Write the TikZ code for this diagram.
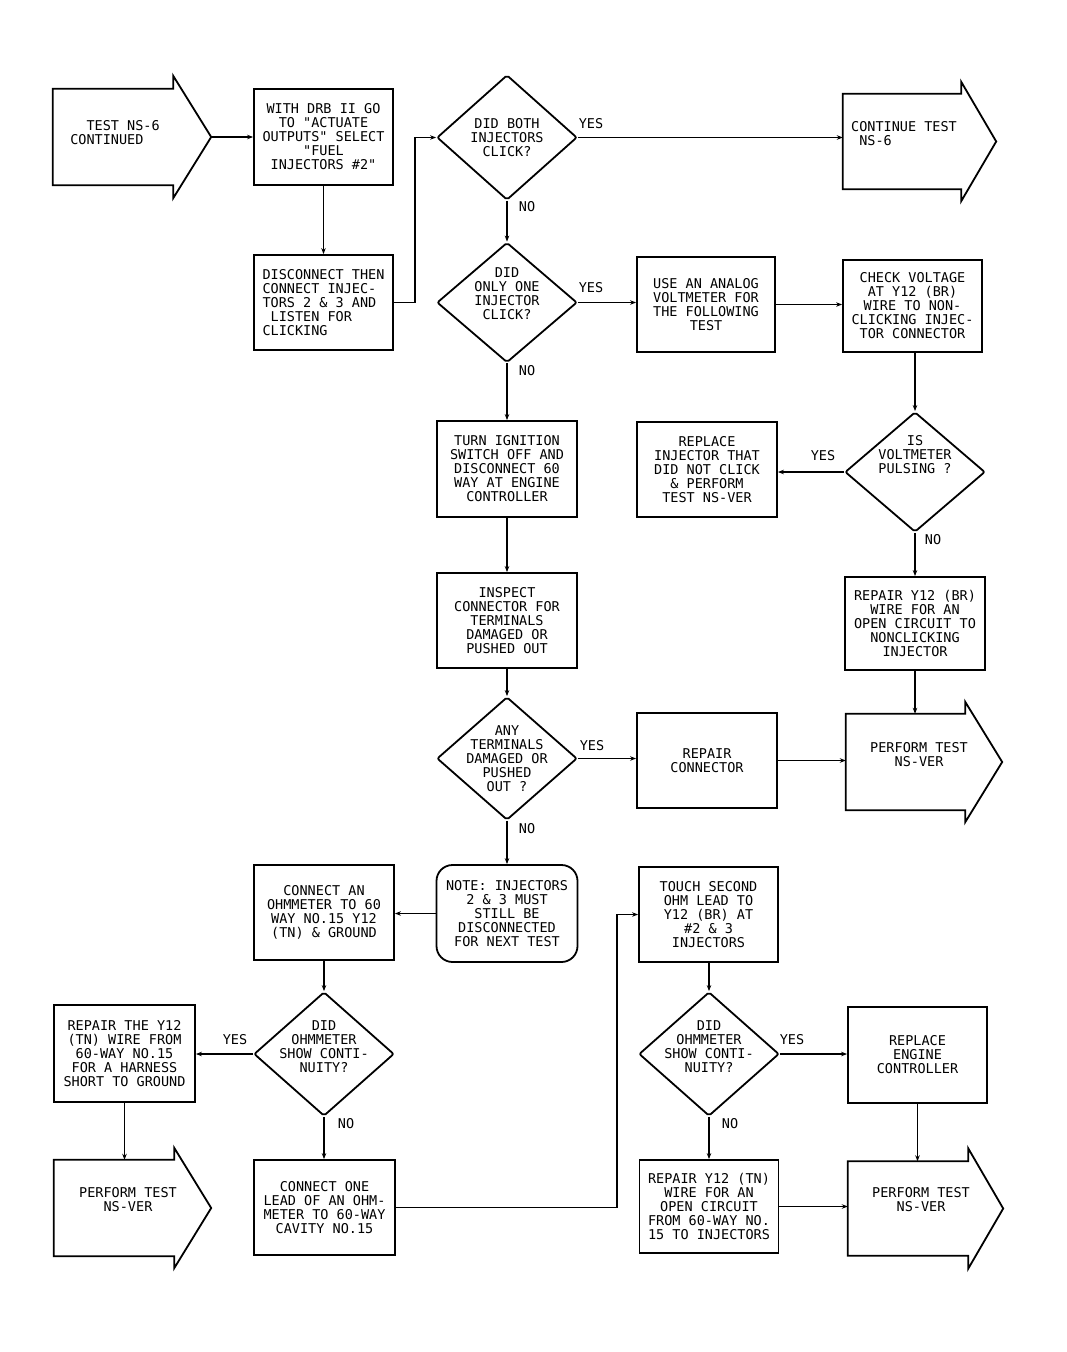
\documentclass[tikz,border=0pt]{standalone}
\usepackage{fontspec}
\setmonofont{DejaVu Sans Mono}
\usetikzlibrary{shapes.geometric,arrows.meta,calc}
\newcommand{\barrow}[3]{%
  \draw[outl] (#1.north west) -- (#1.north east) -- ($(#1.north east)+(0,-#2)$) -- ($(#1.east)+(#3,0)$) -- ($(#1.south east)+(0,#2)$) -- (#1.south east) -- (#1.south west) -- cycle;}
\begin{document}
\begin{tikzpicture}[x=1pt,y=-1pt,
  every node/.style={font=\ttfamily\fontsize{13.5}{14}\selectfont, align=center, inner sep=1pt},
  box/.style={draw, line width=1.8pt, minimum width=140pt, minimum height=95pt},
  dia/.style={draw, diamond, line width=1.8pt, minimum width=140pt, minimum height=124pt, inner sep=0pt, rounded corners=2pt},
  body/.style={minimum width=120pt, minimum height=96pt, inner sep=0pt},
  outl/.style={line width=1.8pt, line join=miter},
  conn/.style={line width=1.6pt, -{Stealth[length=6pt,width=4.5pt]}},
  lbl/.style={inner sep=0pt},
  notebox/.style={box, rounded corners=16pt},
]
\useasboundingbox (0,0) rectangle (1066,1352);
\coordinate (j1) at (415,0);
\coordinate (j2) at (617,0);

% top row
\node[body, minimum width=120pt, minimum height=96pt] (start) at (113,137) {};
\barrow{start}{13}{38}
\node[align=left] (starttxt) at (115,133) {\phantom{CC}TEST NS-6\\CONTINUED};

\node[box, minimum width=139pt, minimum height=96pt] (b1) at (323.5,137) {WITH DRB II GO\\TO "ACTUATE\\OUTPUTS" SELECT\\"FUEL\\INJECTORS \#2"};
\node[box, minimum width=139pt, minimum height=95pt, align=left] (b2) at (323.5,302.5) {DISCONNECT THEN\\CONNECT INJEC-\\TORS 2 \& 3 AND\\\phantom{C}LISTEN FOR\\CLICKING};

\node[dia, minimum height=125pt] (d1) at (507,137.5) {};
\node (d1t) at (507,138) {DID BOTH\\INJECTORS\\CLICK?};

\node[body, minimum width=118pt, minimum height=95pt] (cont) at (902,141.5) {};
\barrow{cont}{12}{35}
\node[align=left] (conttxt) at (904,134) {CONTINUE TEST\\\phantom{C}NS-6};

\node[dia, minimum height=120pt] (d2) at (507,302.5) {};
\node (d2t) at (507,294) {DID\\ONLY ONE\\INJECTOR\\CLICK?};

\node[box, minimum width=138pt] (use) at (706,304.5) {USE AN ANALOG\\VOLTMETER FOR\\THE FOLLOWING\\TEST};
\node[box, minimum width=139pt, minimum height=92pt] (check) at (912.5,306) {CHECK VOLTAGE\\AT Y12 (BR)\\WIRE TO NON-\\CLICKING INJEC-\\TOR CONNECTOR};

% second band
\node[box, minimum height=96pt] (turn) at (507,469) {TURN IGNITION\\SWITCH OFF AND\\DISCONNECT 60\\WAY AT ENGINE\\CONTROLLER};
\node[box] (repinj) at (707,469.5) {REPLACE\\INJECTOR THAT\\DID NOT CLICK\\\& PERFORM\\TEST NS-VER};
\node[dia, minimum height=120pt] (isd) at (915,472) {};
\node (isdt) at (915,455) {IS\\VOLTMETER\\PULSING ?};

\node[box] (inspect) at (507,620.5) {INSPECT\\CONNECTOR FOR\\TERMINALS\\DAMAGED OR\\PUSHED OUT};
\node[box, minimum height=93pt] (repbr) at (915,623.5) {REPAIR Y12 (BR)\\WIRE FOR AN\\OPEN CIRCUIT TO\\NONCLICKING\\INJECTOR};

\node[dia, minimum height=123pt] (any) at (507,758.5) {};
\node (anyt) at (507,759) {ANY\\TERMINALS\\DAMAGED OR\\PUSHED\\OUT ?};
\node[box] (repcon) at (707,760.5) {REPAIR\\CONNECTOR};
\node[body, minimum width=119pt, minimum height=96pt] (perf1) at (905.5,762) {};
\barrow{perf1}{12}{37}
\node (perf1t) at (919,755) {PERFORM TEST\\NS-VER};

% lower part
\node[notebox, minimum width=141pt, minimum height=97pt] (note) at (507,913.5) {NOTE: INJECTORS\\2 \& 3 MUST\\STILL BE\\DISCONNECTED\\FOR NEXT TEST};
\node[box] (connan) at (324,912.5) {CONNECT AN\\OHMMETER TO 60\\WAY NO.15 Y12\\(TN) \& GROUND};
\node[box, minimum width=139pt] (touch) at (708.5,914.5) {TOUCH SECOND\\OHM LEAD TO\\Y12 (BR) AT\\\#2 \& 3\\INJECTORS};

\node[dia, minimum height=124pt] (dl) at (324,1054) {};
\node (dlt) at (324,1047) {DID\\OHMMETER\\SHOW CONTI-\\NUITY?};
\node[box, minimum width=141pt, minimum height=97pt] (repy12) at (124.5,1053.5) {REPAIR THE Y12\\(TN) WIRE FROM\\60-WAY NO.15\\FOR A HARNESS\\SHORT TO GROUND};

\node[dia, minimum height=124pt] (dr) at (709,1054) {};
\node (drt) at (709,1047) {DID\\OHMMETER\\SHOW CONTI-\\NUITY?};
\node[box, minimum width=139pt, minimum height=96pt] (repeng) at (917.5,1055) {REPLACE\\ENGINE\\CONTROLLER};

\node[body, minimum width=120pt, minimum height=96pt] (perf2) at (114,1208) {};
\barrow{perf2}{12}{37}
\node (perf2t) at (128,1200) {PERFORM TEST\\NS-VER};

\node[box, minimum width=141pt] (connone) at (324.5,1207.5) {CONNECT ONE\\LEAD OF AN OHM-\\METER TO 60-WAY\\CAVITY NO.15};
\node[box, minimum width=139pt, minimum height=93pt] (reptn) at (709,1206.5) {REPAIR Y12 (TN)\\WIRE FOR AN\\OPEN CIRCUIT\\FROM 60-WAY NO.\\15 TO INJECTORS};

\node[body, minimum width=120pt, minimum height=94pt] (perf3) at (908,1208.5) {};
\barrow{perf3}{13}{35}
\node (perf3t) at (921,1200) {PERFORM TEST\\NS-VER};

% connectors
\draw[conn] (start.east) ++(38,0) -- (b1.west);
\draw[conn] (b1.south) -- (b2.north);
\draw[conn] (b2.east) -- (b2.east -| j1) |- (d1.west);
\draw[conn] (d1.east) -- (d1.east -| cont.west);
\draw[conn] (d1.south) -- (d2.north);
\draw[conn] (d2.east) -- (d2.east -| use.west);
\draw[conn] (use.east) -- (use.east -| check.west);
\draw[conn] (isd.north |- check.south) -- (isd.north);
\draw[conn] (isd.west) -- (isd.west -| repinj.east);
\draw[conn] (isd.south) -- (repbr.north);
\draw[conn] (repbr.south) -- (repbr.south |- perf1.north);
\draw[conn] (d2.south) -- (turn.north);
\draw[conn] (turn.south) -- (inspect.north);
\draw[conn] (inspect.south) -- (any.north);
\draw[conn] (any.east) -- (any.east -| repcon.west);
\draw[conn] (repcon.east) -- (repcon.east -| perf1.west);
\draw[conn] (any.south) -- (note.north);
\draw[conn] (note.west) -- (note.west -| connan.east);
\draw[conn] (connan.south) -- (dl.north);
\draw[conn] (dl.west) -- (dl.west -| repy12.east);
\draw[conn] (repy12.south) -- (repy12.south |- perf2.north);
\draw[conn] (dl.south) -- (dl.south |- connone.north);
\draw[conn] (connone.east) -- (connone.east -| j2) |- (touch.west);
\draw[conn] (touch.south -| dr.north) -- (dr.north);
\draw[conn] (dr.east) -- (dr.east -| repeng.west);
\draw[conn] (dr.south) -- (reptn.north);
\draw[conn] (reptn.east) -- (reptn.east -| perf3.west);
\draw[conn] (repeng.south) -- (repeng.south |- perf3.north);

% labels
\node[lbl] (y1) at (591,124) {YES};
\node[lbl] (n1) at (527,207) {NO};
\node[lbl] (y2) at (591,288) {YES};
\node[lbl] (n2) at (527,371) {NO};
\node[lbl] (y3) at (823,456) {YES};
\node[lbl] (n3) at (933,540) {NO};
\node[lbl] (y4) at (592,746) {YES};
\node[lbl] (n4) at (527,829) {NO};
\node[lbl] (y5) at (235,1040) {YES};
\node[lbl] (n5) at (346,1124) {NO};
\node[lbl] (y6) at (792,1040) {YES};
\node[lbl] (n6) at (730,1124) {NO};
\end{tikzpicture}
\end{document}
